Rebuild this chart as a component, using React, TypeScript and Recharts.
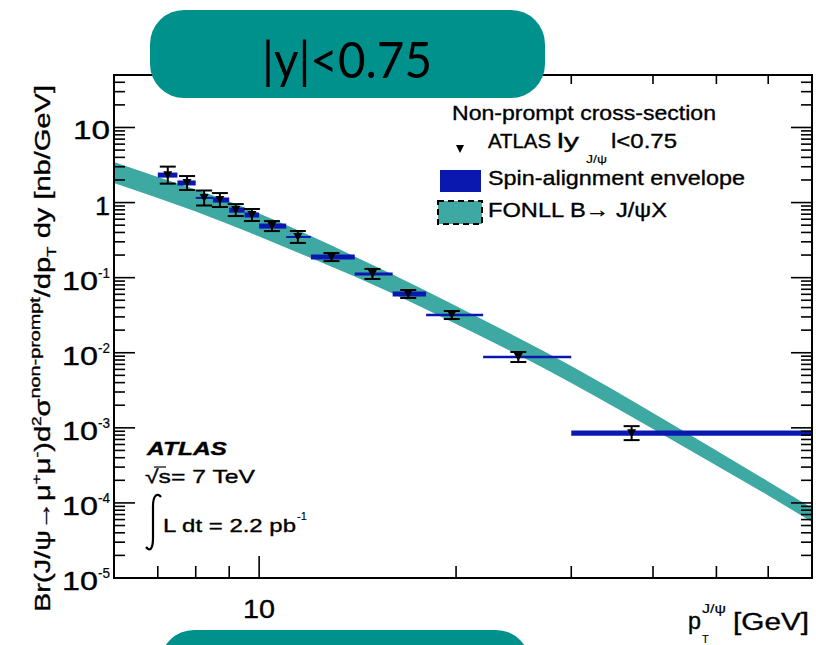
import React from 'react';
import { ComposedChart, Area, Scatter, XAxis, YAxis, ErrorBar, ReferenceArea } from 'recharts';

// ---- FONLL B -> J/psi X band ----
const fonllPt = [6, 7, 8, 9, 10, 12, 14, 16, 20, 25, 30, 40, 50, 60, 70];
const fonllLow = [1.818, 1.148, 0.759, 0.5094, 0.3526, 0.1824, 0.1034, 0.06141, 0.02411, 0.009177, 0.003949, 0.000964, 0.000315, 0.0001254, 5.57e-5];
const fonllHigh = [3.462, 2.185, 1.49, 1.031, 0.7137, 0.358, 0.191, 0.11, 0.04184, 0.01546, 0.006651, 0.001574, 0.000498, 0.0001928, 8.55e-5];

// ---- ATLAS non-prompt cross-section, |y|<0.75 ----
const binLo = [7, 7.5, 8, 8.5, 9, 9.5, 10, 11, 12, 14, 16, 18, 22, 30];
const binHi = [7.5, 8, 8.5, 9, 9.5, 10, 11, 12, 14, 16, 18, 22, 30, 70];
const ptMean = [7.25, 7.76, 8.24, 8.71, 9.21, 9.75, 10.46, 11.46, 12.9, 14.9, 16.9, 19.7, 24.9, 37.1];
const xsec = [2.32, 1.82, 1.15, 1.08, 0.794, 0.683, 0.486, 0.348, 0.188, 0.112, 0.0606, 0.0318, 0.00877, 0.00085];
const errLo = [0.533, 0.351, 0.236, 0.208, 0.133, 0.115, 0.069, 0.058, 0.0218, 0.0159, 0.00703, 0.00369, 0.00125, 0.000164];
const errHi = [0.691, 0.435, 0.297, 0.258, 0.16, 0.138, 0.081, 0.07, 0.0246, 0.0186, 0.00794, 0.00417, 0.00146, 0.000203];
// spin-alignment envelope
const envLo = [2.15, 1.69, 1.12, 1.0, 0.735, 0.632, 0.45, 0.338, 0.174, 0.107, 0.0561, 0.0306, 0.00844, 0.000787];
const envHi = [2.51, 1.97, 1.19, 1.17, 0.858, 0.738, 0.525, 0.359, 0.203, 0.117, 0.0654, 0.033, 0.00911, 0.000918];

// ---- ticks ----
const xTicks = [7, 8, 9, 10, 20, 30, 40, 50, 60];
const xMajorTicks = [10];
const yDecades = [-5, -4, -3, -2, -1, 0, 1];
const yMultipliers = [1, 2, 3, 4, 5, 6, 7, 8, 9];
const yTickLabels: Record<string, [string, string]> = {
  '-5': ['10', '-5'],
  '-4': ['10', '-4'],
  '-3': ['10', '-3'],
  '-2': ['10', '-2'],
  '-1': ['10', '-1'],
  '0': ['1', ''],
  '1': ['10', ''],
};

const Y_MAX = 50;
const yTicks: number[] = [];
yDecades.forEach((d) => yMultipliers.forEach((m) => {
  const v = m * Math.pow(10, d);
  if (v < Y_MAX) yTicks.push(v);
}));

const bandData = fonllPt.map((x, i) => ({ x, band: [fonllLow[i], fonllHigh[i]] }));
const points = ptMean.map((x, i) => ({ x, y: xsec[i], err: [errLo[i], errHi[i]] }));

// ---- layout ----
const W = 816;
const H = 645;
const M = { top: 75, right: 4, bottom: 37, left: 54 };
const YW = 60;
const XH = 30;
const PL = M.left + YW;
const PR = W - M.right;
const PT = M.top;
const PB = H - M.bottom - XH;

const FONT = '"Liberation Sans", Arial, Helvetica, sans-serif';
const TEAL_BAND = '#3ea8a2';
const BLUE = '#0a18b0';
const BOX = '#00918d';
const TXT = { fontFamily: FONT, fill: '#000', stroke: '#000', strokeWidth: 0.35 } as const;

const isDecade = (v: number) => Math.abs(Math.log10(v) - Math.round(Math.log10(v))) < 1e-6;

const YTick = (props: any) => {
  const { y, payload } = props;
  const v = payload.value;
  const major = isDecade(v);
  const len = major ? 21 : 11;
  const label = major ? yTickLabels[String(Math.round(Math.log10(v)))] : null;
  return (
    <g>
      <line x1={PL} x2={PL + len} y1={y} y2={y} stroke="#000" strokeWidth={1.6} />
      <line x1={PR - len} x2={PR} y1={y} y2={y} stroke="#000" strokeWidth={1.6} />
      {label && label[1] === '' && (
        <text x={110} y={y + 12} textAnchor="end" {...TXT} fontSize={25}
          textLength={label[0].length === 2 ? 37 : 15} lengthAdjust="spacingAndGlyphs">{label[0]}</text>
      )}
      {label && label[1] !== '' && (
        <g>
          <text x={62} y={y + 12} {...TXT} fontSize={25} textLength={36} lengthAdjust="spacingAndGlyphs">{label[0]}</text>
          <text x={98} y={y} {...TXT} strokeWidth={0.2} fontSize={14} textLength={12} lengthAdjust="spacingAndGlyphs">{label[1]}</text>
        </g>
      )}
    </g>
  );
};

const XTick = (props: any) => {
  const { x, payload } = props;
  const v = payload.value;
  const major = xMajorTicks.includes(v);
  const len = major ? 22 : 12;
  const lenTop = major ? 18 : 9;
  return (
    <g>
      <line x1={x} x2={x} y1={PB} y2={PB - len} stroke="#000" strokeWidth={1.6} />
      <line x1={x} x2={x} y1={PT} y2={PT + lenTop} stroke="#000" strokeWidth={1.6} />
      {major && (
        <text x={x} y={618} textAnchor="middle" {...TXT} fontSize={25}
          textLength={32} lengthAdjust="spacingAndGlyphs">{String(v)}</text>
      )}
    </g>
  );
};

const TriangleDown = (props: any) => {
  const { cx, cy } = props;
  if (cx == null || cy == null) return null;
  return <polygon points={`${cx - 4.5},${cy - 4} ${cx + 4.5},${cy - 4} ${cx},${cy + 4}`} fill="#000" />;
};

export default function App() {
  return (
    <div style={{ position: 'absolute', left: 0, top: 0, width: W, height: H, background: '#fff', overflow: 'hidden' }}>
      <ComposedChart width={W} height={H} data={bandData} margin={M}>
        <XAxis dataKey="x" type="number" scale="log" domain={[6, 70]} allowDataOverflow ticks={xTicks}
          interval={0} tickSize={0} tickMargin={0} height={XH} axisLine={false} tickLine={false} tick={<XTick />} />
        <YAxis type="number" scale="log" domain={[1e-5, Y_MAX]} allowDataOverflow ticks={yTicks}
          interval={0} tickSize={0} tickMargin={0} width={YW} axisLine={false} tickLine={false} tick={<YTick />} />
        <Area dataKey="band" type="monotone" stroke="none" fill={TEAL_BAND} fillOpacity={1}
          isAnimationActive={false} dot={false} activeDot={false} />
        {binLo.map((lo, i) => (
          <ReferenceArea key={i} x1={lo} x2={binHi[i]} y1={envLo[i]} y2={envHi[i]}
            fill={BLUE} fillOpacity={1} stroke="none" ifOverflow="visible" />
        ))}
        <Scatter data={points} dataKey="y" fill="#000" shape={<TriangleDown />} isAnimationActive={false}>
          <ErrorBar dataKey="err" direction="y" width={8} stroke="#000" strokeWidth={2} />
        </Scatter>
      </ComposedChart>

      <svg width={W} height={H} style={{ position: 'absolute', left: 0, top: 0, pointerEvents: 'none' }}>
        {/* frame */}
        <rect x={PL} y={PT} width={PR - PL} height={PB - PT} fill="none" stroke="#000" strokeWidth={2} />

        {/* y axis title */}
        <g transform="translate(50, 612) rotate(-90)">
          <text x={0} y={0} {...TXT} fontSize={22} textLength={527} lengthAdjust="spacingAndGlyphs">
            <tspan>Br(J/ψ→μ</tspan>
            <tspan fontSize={13} dy={-9}>+</tspan>
            <tspan dy={9}>μ</tspan>
            <tspan fontSize={13} dy={-9}>-</tspan>
            <tspan dy={9}>)d</tspan>
            <tspan fontSize={13} dy={-9}>2</tspan>
            <tspan dy={9}>σ</tspan>
            <tspan fontSize={15} dy={-10}>non-prompt</tspan>
            <tspan dy={10}>/dp</tspan>
            <tspan fontSize={13} dy={6}>T</tspan>
            <tspan dy={-6}> dy [nb/GeV]</tspan>
          </text>
        </g>

        {/* x axis title */}
        <text x={688} y={629} {...TXT} fontSize={23} textLength={13} lengthAdjust="spacingAndGlyphs">p</text>
        <text x={702} y={643} {...TXT} strokeWidth={0.15} fontSize={11}>T</text>
        <text x={702} y={613} {...TXT} strokeWidth={0.15} fontSize={12} textLength={24} lengthAdjust="spacingAndGlyphs">J/ψ</text>
        <text x={733} y={630} {...TXT} fontSize={23} textLength={76} lengthAdjust="spacingAndGlyphs">[GeV]</text>

        {/* legend */}
        <text x={452} y={120} {...TXT} fontSize={21} textLength={264} lengthAdjust="spacingAndGlyphs">Non-prompt cross-section</text>
        <polygon points="456,145 464,145 460,153" fill="#000" />
        <text x={488} y={148} {...TXT} fontSize={21} textLength={63} lengthAdjust="spacingAndGlyphs">ATLAS</text>
        <text x={557} y={148} {...TXT} fontSize={21} textLength={22} lengthAdjust="spacingAndGlyphs">ly</text>
        <text x={586} y={163} {...TXT} strokeWidth={0.1} fontSize={10} textLength={21} lengthAdjust="spacingAndGlyphs">J/ψ</text>
        <text x={611} y={148} {...TXT} fontSize={21} textLength={66} lengthAdjust="spacingAndGlyphs">l&lt;0.75</text>
        <rect x={440} y={170} width={41} height={22} fill={BLUE} />
        <text x={488} y={185} {...TXT} fontSize={21} textLength={257} lengthAdjust="spacingAndGlyphs">Spin-alignment envelope</text>
        <rect x={438} y={201} width={44} height={23} fill={TEAL_BAND} stroke="#000" strokeWidth={2} strokeDasharray="6,4" />
        <text x={488} y={217} {...TXT} fontSize={21} textLength={179} lengthAdjust="spacingAndGlyphs">FONLL B→ J/ψX</text>

        {/* ATLAS label */}
        <text x={147} y={455} {...TXT} fontSize={18} fontWeight="bold" fontStyle="italic" textLength={80} lengthAdjust="spacingAndGlyphs">ATLAS</text>
        <text x={145} y={483} {...TXT} fontSize={19} textLength={110} lengthAdjust="spacingAndGlyphs">√s= 7 TeV</text>
        <line x1={154} x2={166} y1={467} y2={467} stroke="#000" strokeWidth={1.2} />
        <path d="M 161 497 C 157 492, 153 496, 153 506 L 153 538 C 153 549, 150 552, 146 547" fill="none" stroke="#000" strokeWidth={2.2} />
        <text x={163} y={532} {...TXT} fontSize={19} textLength={133} lengthAdjust="spacingAndGlyphs">L dt = 2.2 pb</text>
        <text x={297} y={520} {...TXT} strokeWidth={0.15} fontSize={11}>-1</text>

        {/* teal label boxes */}
        <rect x={150} y={10} width={395} height={88} rx={34} ry={34} fill={BOX} />
        <text x={262} y={78} fontFamily="Lato, 'Open Sans', sans-serif" fill="#000" fontSize={50} textLength={170} lengthAdjust="spacingAndGlyphs">|y|&lt;0.75</text>
        <rect x={160} y={630} width={370} height={70} rx={34} ry={34} fill={BOX} />
      </svg>
    </div>
  );
}
